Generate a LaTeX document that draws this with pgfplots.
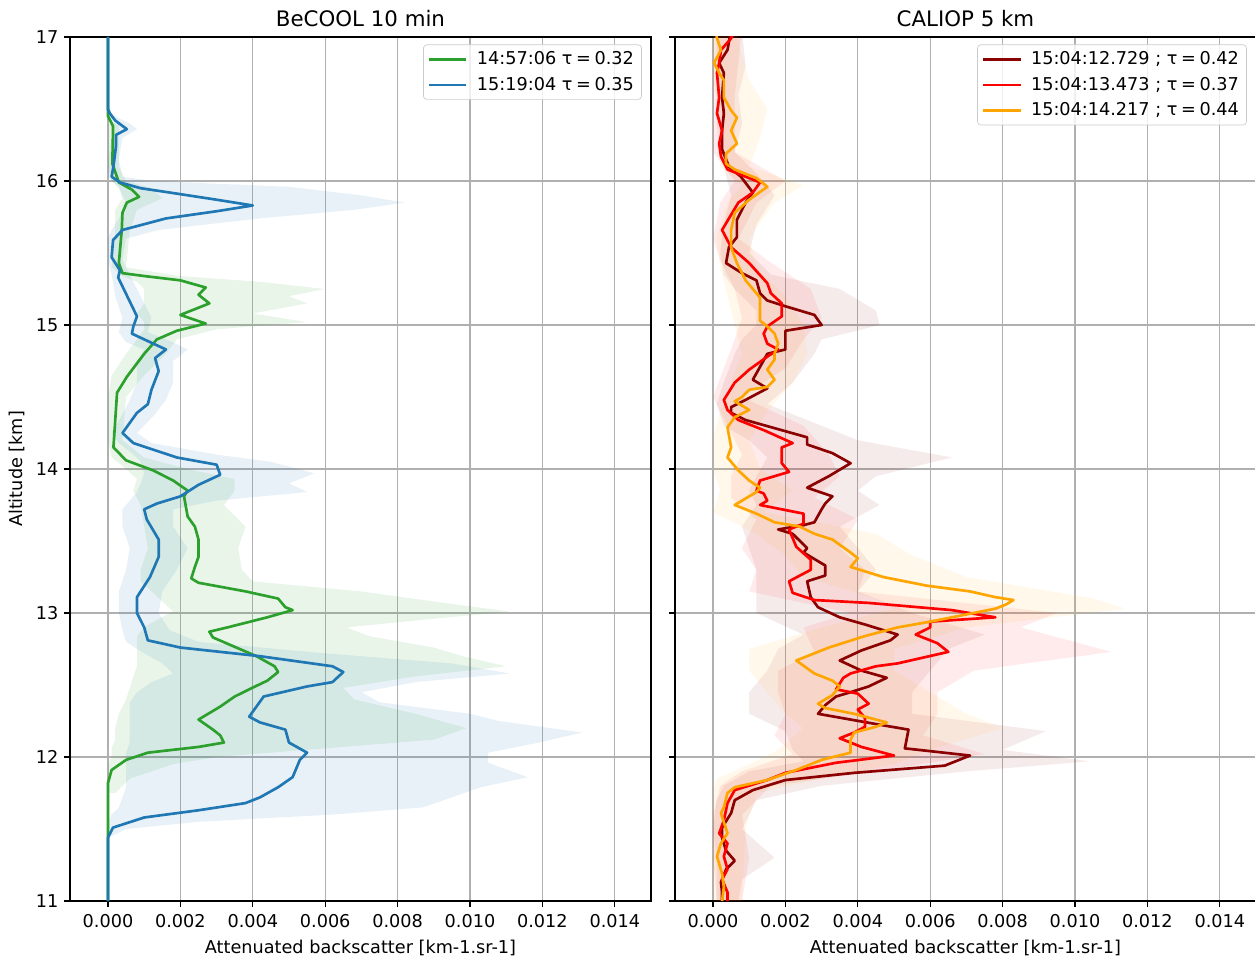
\documentclass[border=0pt]{standalone}
\usepackage{fontspec}
\setmainfont{DejaVu Sans}
\usepackage{pgfplots}
\usepackage{pgfplotstable}
\pgfplotsset{compat=1.18}

\definecolor{mplblue}{HTML}{1F77B4}
\definecolor{mplgreen}{HTML}{2CA02C}
\definecolor{cdarkred}{HTML}{8B0000}
\definecolor{cred}{HTML}{FF0000}
\definecolor{corange}{HTML}{FFA500}
\definecolor{gridgrey}{HTML}{B0B0B0}

% ---------------- BeCOOL profiles (alt [km], backscatter) ----------------
\pgfplotstableread{
alt val
17.00 0.0000
16.50 0.0000
16.47 0.00005
16.42 0.0002
16.36 0.00052
16.32 0.00022
16.24 0.00022
16.10 0.00015
16.03 0.0001
15.99 0.00033
15.95 0.0009
15.92 0.0017
15.87 0.0030
15.83 0.0040
15.79 0.0030
15.74 0.0016
15.66 0.0004
15.59 0.00014
15.47 0.0001
15.38 0.00033
15.33 0.00028
15.19 0.00055
15.06 0.0008
14.99 0.0007
14.94 0.00066
14.90 0.0010
14.83 0.0016
14.77 0.0013
14.68 0.0014
14.55 0.0012
14.45 0.0011
14.39 0.0008
14.25 0.0004
14.18 0.0007
14.08 0.0019
14.03 0.0030
13.96 0.0031
13.89 0.0025
13.81 0.0020
13.76 0.00135
13.72 0.0010
13.65 0.00107
13.51 0.0014
13.39 0.0014
13.25 0.00116
13.11 0.0008
13.00 0.0008
12.90 0.0010
12.81 0.0011
12.76 0.0020
12.70 0.0042
12.63 0.0062
12.59 0.0065
12.52 0.0062
12.49 0.0055
12.42 0.0043
12.35 0.0041
12.28 0.0039
12.24 0.0042
12.19 0.0049
12.10 0.0050
12.03 0.0055
11.98 0.0053
11.86 0.0051
11.79 0.0047
11.72 0.0042
11.68 0.0038
11.63 0.0025
11.58 0.0010
11.51 0.00014
11.44 0.0000
11.00 0.0000
}\blueline

\pgfplotstableread{
alt val
17.00 0.0000
16.45 0.0000
16.38 0.00014
16.12 0.00012
15.99 0.0003
15.94 0.00066
15.89 0.00086
15.85 0.00052
15.78 0.0004
15.66 0.00038
15.43 0.0003
15.36 0.0004
15.34 0.0010
15.31 0.0020
15.26 0.0027
15.21 0.0025
15.15 0.0028
15.07 0.0020
15.01 0.0027
14.96 0.0019
14.90 0.00135
14.80 0.0010
14.64 0.00052
14.53 0.00025
14.34 0.0002
14.15 0.00015
14.06 0.0005
13.99 0.00125
13.92 0.0018
13.85 0.0022
13.81 0.0021
13.67 0.0022
13.60 0.0024
13.51 0.0025
13.39 0.0025
13.32 0.0024
13.24 0.0023
13.21 0.0025
13.15 0.0038
13.10 0.0047
13.04 0.0049
13.02 0.0051
12.97 0.0044
12.90 0.0033
12.87 0.0028
12.83 0.0029
12.70 0.0041
12.63 0.0046
12.59 0.0047
12.53 0.0044
12.47 0.0039
12.42 0.0035
12.35 0.0031
12.26 0.0025
12.19 0.0029
12.15 0.0031
12.10 0.0032
12.07 0.0025
12.03 0.0011
11.98 0.0005
11.91 0.0001
11.82 0.0000
11.00 0.0000
}\greenline

% ---------------- CALIOP profiles ----------------
\pgfplotstableread{
alt val
17.05 0.0005
16.91 0.0004
16.82 0.00017
16.75 0.0003
16.58 0.00025
16.47 0.0003
16.35 0.00025
16.22 0.00025
16.10 0.00044
16.03 0.00077
15.92 0.0011
15.85 0.0009
15.73 0.00066
15.61 0.00066
15.54 0.00044
15.43 0.00036
15.36 0.0008
15.31 0.0012
15.22 0.0013
15.17 0.0015
15.13 0.0020
15.07 0.0028
15.00 0.0030
14.96 0.0020
14.83 0.0020
14.80 0.0015
14.62 0.0011
14.56 0.0015
14.48 0.0009
14.43 0.0005
14.39 0.0005
14.34 0.0009
14.22 0.0026
14.17 0.0026
14.11 0.0033
14.04 0.0038
13.95 0.0032
13.87 0.0026
13.81 0.0033
13.76 0.0031
13.72 0.0030
13.63 0.0028
13.61 0.0025
13.58 0.0018
13.55 0.0022
13.45 0.0026
13.42 0.0025
13.33 0.0031
13.26 0.0031
13.22 0.0026
13.11 0.0027
13.04 0.0029
12.97 0.0035
12.92 0.0042
12.85 0.0051
12.81 0.0049
12.74 0.0041
12.67 0.0035
12.60 0.0041
12.55 0.0048
12.49 0.0043
12.45 0.0038
12.42 0.0034
12.36 0.0031
12.30 0.0029
12.26 0.0038
12.22 0.0047
12.19 0.0054
12.06 0.0053
12.01 0.0071
11.94 0.0064
11.89 0.0039
11.84 0.0020
11.77 0.0011
11.70 0.0006
11.61 0.0005
11.51 0.00025
11.44 0.00025
11.35 0.00036
11.28 0.0006
11.22 0.00036
11.13 0.00022
11.06 0.00025
11.00 0.00025
}\dkredline

\pgfplotstableread{
alt val
17.05 0.0006
16.99 0.0005
16.91 0.00022
16.82 0.00017
16.75 0.00011
16.58 0.00017
16.47 0.00011
16.35 0.00025
16.26 0.00017
16.17 0.00022
16.08 0.0004
15.99 0.0013
15.92 0.0011
15.85 0.0007
15.66 0.00025
15.54 0.0005
15.43 0.0010
15.29 0.0015
15.22 0.0016
15.15 0.0019
15.06 0.0019
14.99 0.0015
14.94 0.0014
14.87 0.0015
14.83 0.0018
14.78 0.0015
14.69 0.0010
14.60 0.0006
14.48 0.0003
14.41 0.0004
14.34 0.0007
14.27 0.0014
14.18 0.0022
14.15 0.0019
14.04 0.0019
13.98 0.0021
13.92 0.0013
13.85 0.0012
13.83 0.0014
13.78 0.0015
13.75 0.0013
13.69 0.0025
13.62 0.0025
13.58 0.0021
13.46 0.0023
13.37 0.0027
13.30 0.0027
13.22 0.0021
13.14 0.0022
13.09 0.0028
13.07 0.0043
13.02 0.0066
12.97 0.0078
12.94 0.0060
12.90 0.0060
12.85 0.0056
12.79 0.0062
12.73 0.0065
12.65 0.0051
12.63 0.0045
12.58 0.0038
12.55 0.0036
12.47 0.0034
12.44 0.0040
12.37 0.0043
12.33 0.0040
12.27 0.0042
12.21 0.0042
12.17 0.0039
12.13 0.0035
12.07 0.0041
12.01 0.0050
11.96 0.0034
11.89 0.0020
11.84 0.0015
11.77 0.0006
11.68 0.0004
11.56 0.0003
11.47 0.00017
11.40 0.0004
11.31 0.0003
11.22 0.0004
11.15 0.00025
11.06 0.0004
11.00 0.0004
}\redline

\pgfplotstableread{
alt val
17.05 0.0001
17.00 0.0001
16.91 0.00022
16.82 0.00003
16.75 0.00017
16.70 0.0003
16.58 0.0003
16.49 0.0005
16.44 0.00066
16.35 0.0005
16.26 0.00066
16.19 0.00036
16.12 0.00036
16.08 0.0006
16.02 0.0012
15.96 0.0015
15.87 0.0010
15.78 0.0006
15.66 0.0005
15.54 0.0005
15.43 0.00066
15.31 0.0009
15.19 0.0013
15.10 0.0013
15.03 0.0013
14.99 0.0015
14.94 0.0017
14.87 0.0018
14.80 0.0017
14.76 0.0017
14.69 0.0015
14.62 0.0017
14.57 0.0015
14.55 0.0010
14.50 0.0008
14.47 0.0006
14.41 0.0010
14.36 0.0006
14.29 0.0004
14.15 0.0005
14.08 0.0004
13.99 0.0007
13.92 0.0010
13.87 0.0013
13.84 0.0012
13.81 0.0010
13.75 0.0006
13.69 0.0012
13.63 0.0017
13.60 0.0024
13.55 0.0028
13.51 0.0033
13.42 0.0038
13.38 0.0040
13.32 0.0038
13.25 0.0047
13.19 0.0059
13.15 0.0071
13.11 0.0078
13.09 0.0083
13.06 0.0081
13.03 0.0078
12.99 0.0070
12.94 0.0060
12.90 0.0051
12.84 0.0042
12.76 0.0032
12.67 0.0023
12.58 0.0028
12.53 0.0033
12.49 0.0035
12.43 0.0033
12.37 0.0029
12.34 0.0031
12.30 0.0039
12.24 0.0048
12.21 0.0045
12.17 0.0039
12.12 0.0038
12.03 0.0038
11.98 0.0030
11.91 0.0023
11.84 0.0015
11.79 0.0006
11.75 0.0004
11.65 0.0003
11.61 0.00022
11.47 0.0004
11.40 0.00022
11.31 0.00011
11.19 0.00025
11.10 0.0003
11.00 0.00025
}\orangeline

\pgfplotsset{
  panel/.style={
    scale only axis, width=348.6pt, height=518.4pt,
    xmin=-0.00105, xmax=0.015, ymin=11, ymax=17,
    xtick={0,0.002,0.004,0.006,0.008,0.010,0.012,0.014},
    ytick={11,12,13,14,15,16,17},
    scaled x ticks=false,
    xticklabel style={/pgf/number format/fixed, /pgf/number format/fixed zerofill, /pgf/number format/precision=3, yshift=-1pt},
    /pgf/number format/assume math mode=true,
    grid=major, major grid style={gridgrey, line width=0.8pt},
    tick align=outside, tick pos=left, major tick length=3.5pt,
    every tick/.style={black, line width=0.8pt},
    axis line style={line width=0.8pt},
    tick label style={font=\fontsize{10.6}{12.5}\selectfont},
    label style={font=\fontsize{10.6}{12.5}\selectfont},
    title style={font=\fontsize{12.8}{15}\selectfont, yshift=-3.3pt},
    xlabel={Attenuated backscatter [km-1.sr-1]},
    xlabel style={yshift=-0.5pt},
    legend cell align=left,
    legend style={at={(1,1)}, anchor=north east, xshift=-5.5pt, yshift=-4.5pt,
      draw=black!20, rounded corners=2pt, fill=white, fill opacity=0.8, text opacity=1,
      font=\fontsize{10.6}{12.5}\selectfont, inner xsep=2.5pt, inner ysep=2pt, row sep=2pt},
    legend image code/.code={\draw[#1, line width=1.6pt] (0pt,0pt) -- (22.5pt,0pt); \path (26pt,0pt);},
  },
  bandfill/.style={draw=none, forget plot, fill opacity=0.1, fill=#1},
  bandfillr/.style={draw=none, forget plot, fill opacity=0.08, fill=#1},
  prof/.style={#1, line width=1.6pt, line join=round},
}

\begin{document}
\begin{tikzpicture}
\path[use as bounding box] (0,0) rectangle (753pt,573.6pt);

% ---------------- left panel ----------------
\begin{axis}[panel, at={(42pt,33pt)}, anchor=south west,
  title={BeCOOL 10 min}, ylabel={Altitude [km]}, ylabel style={yshift=0pt}]
  % green band (hi top->bottom, then lo bottom->top)
  \addplot[bandfill=mplgreen] coordinates {
    (0.0003,16.40)(0.0003,16.10)(0.0005,16.00)(0.0012,15.95)(0.0015,15.88)(0.0008,15.80)(0.0006,15.65)(0.0005,15.40)(0.0020,15.34)(0.0042,15.30)(0.0060,15.25)(0.0050,15.20)(0.0055,15.15)(0.0040,15.08)(0.0055,15.02)(0.0030,14.97)(0.0019,14.90)(0.0016,14.80)(0.0010,14.65)(0.0005,14.50)(0.0004,14.20)(0.0010,14.08)(0.0022,14.00)(0.0035,13.93)(0.0035,13.85)(0.0032,13.75)(0.0038,13.60)(0.0036,13.45)(0.0037,13.30)(0.0040,13.22)(0.0070,13.15)(0.0090,13.08)(0.0111,13.01)(0.0090,12.96)(0.0066,12.90)(0.0072,12.84)(0.0090,12.76)(0.0098,12.70)(0.0110,12.63)(0.0085,12.56)(0.0065,12.48)(0.0068,12.40)(0.0085,12.30)(0.0099,12.20)(0.0090,12.12)(0.0060,12.06)(0.0030,12.00)(0.0018,11.95)(0.0006,11.85)(0.0002,11.75)
    (0.0000,11.75)(0.0000,11.85)(0.0000,11.95)(0.0001,12.00)(0.0001,12.06)(0.0002,12.12)(0.0002,12.20)(0.0003,12.30)(0.0005,12.40)(0.0006,12.48)(0.0007,12.56)(0.0008,12.63)(0.0008,12.70)(0.0008,12.76)(0.0008,12.84)(0.0010,12.90)(0.0014,12.96)(0.0018,13.01)(0.0015,13.08)(0.0012,13.15)(0.0009,13.22)(0.0009,13.30)(0.0011,13.45)(0.0010,13.60)(0.0009,13.75)(0.0007,13.85)(0.0008,13.93)(0.0005,14.00)(0.0001,14.08)(0.0000,14.20)(0.0000,14.50)(0.0001,14.65)(0.0005,14.80)(0.0008,14.90)(0.0010,14.97)(0.0010,15.02)(0.0008,15.08)(0.0010,15.15)(0.0010,15.20)(0.0010,15.25)(0.0008,15.30)(0.0004,15.34)(0.0001,15.40)(0.0002,15.65)(0.0002,15.80)(0.0004,15.88)(0.0003,15.95)(0.0001,16.00)(0.0000,16.10)(0.0000,16.40)
  };
  % blue band
  \addplot[bandfill=mplblue] coordinates {
    (0.0001,16.46)(0.0006,16.40)(0.0008,16.36)(0.0004,16.30)(0.0003,16.15)(0.0004,16.03)(0.0012,16.00)(0.0050,15.96)(0.0070,15.90)(0.0082,15.85)(0.0068,15.80)(0.0042,15.74)(0.0014,15.66)(0.0005,15.60)(0.0004,15.45)(0.0006,15.35)(0.0009,15.20)(0.0012,15.05)(0.0011,14.95)(0.0018,14.88)(0.0022,14.83)(0.0018,14.75)(0.0018,14.60)(0.0016,14.48)(0.0013,14.38)(0.0008,14.25)(0.0012,14.18)(0.0030,14.10)(0.0045,14.05)(0.0057,13.97)(0.0050,13.90)(0.0055,13.84)(0.0030,13.78)(0.0018,13.72)(0.0018,13.60)(0.0022,13.45)(0.0019,13.30)(0.0015,13.15)(0.0014,13.00)(0.0017,12.88)(0.0025,12.80)(0.0060,12.72)(0.0095,12.65)(0.0111,12.58)(0.0085,12.52)(0.0070,12.45)(0.0075,12.38)(0.0100,12.30)(0.0108,12.25)(0.0131,12.17)(0.0119,12.10)(0.0105,12.03)(0.0105,11.96)(0.0116,11.86)(0.0103,11.79)(0.0095,11.72)(0.0087,11.65)(0.0062,11.60)(0.0025,11.55)(0.0005,11.50)(0.0001,11.45)
    (0.0000,11.45)(0.0000,11.50)(0.0000,11.55)(0.0001,11.60)(0.0003,11.65)(0.0004,11.72)(0.0005,11.79)(0.0005,11.86)(0.0005,11.96)(0.0005,12.03)(0.0006,12.10)(0.0006,12.17)(0.0006,12.25)(0.0006,12.30)(0.0006,12.38)(0.0008,12.45)(0.0012,12.52)(0.0018,12.58)(0.0015,12.65)(0.0010,12.72)(0.0005,12.80)(0.0004,12.88)(0.0003,13.00)(0.0003,13.15)(0.0005,13.30)(0.0006,13.45)(0.0004,13.60)(0.0004,13.72)(0.0006,13.78)(0.0008,13.84)(0.0009,13.90)(0.0010,13.97)(0.0009,14.05)(0.0007,14.10)(0.0003,14.18)(0.0001,14.25)(0.0004,14.38)(0.0006,14.48)(0.0008,14.60)(0.0008,14.75)(0.0010,14.83)(0.0005,14.88)(0.0003,14.95)(0.0004,15.05)(0.0002,15.20)(0.0001,15.35)(0.0000,15.45)(0.0000,15.60)(0.0001,15.66)(0.0003,15.74)(0.0004,15.80)(0.0005,15.85)(0.0004,15.90)(0.0003,15.96)(0.0001,16.00)(0.0000,16.03)(0.0000,16.15)(0.0001,16.30)(0.0002,16.36)(0.0001,16.40)(0.0000,16.46)
  };
  \addplot[prof=mplgreen] table[x=val, y=alt] {\greenline};
  \addlegendentry{14:57:06 τ\hspace{2.2pt}=\hspace{2.2pt}0.32}
  \addplot[prof=mplblue] table[x=val, y=alt] {\blueline};
  \addlegendentry{15:19:04 τ\hspace{2.2pt}=\hspace{2.2pt}0.35}
\end{axis}

% ---------------- right panel ----------------
\begin{axis}[panel, at={(405pt,33pt)}, anchor=south west,
  title={CALIOP 5 km}, yticklabels={}]
  % dark red band
  \addplot[bandfillr=cdarkred] coordinates {
    (0.0008,17.05)(0.0009,16.80)(0.0007,16.60)(0.0008,16.40)(0.0006,16.20)(0.0014,16.00)(0.0017,15.90)(0.0012,15.70)(0.0010,15.50)(0.0016,15.35)(0.0035,15.25)(0.0045,15.10)(0.0046,15.00)(0.0030,14.90)(0.0028,14.80)(0.0022,14.60)(0.0015,14.45)(0.0030,14.30)(0.0040,14.20)(0.0066,14.08)(0.0045,13.95)(0.0040,13.85)(0.0046,13.75)(0.0035,13.60)(0.0040,13.45)(0.0045,13.30)(0.0040,13.15)(0.0055,13.00)(0.0075,12.85)(0.0065,12.75)(0.0060,12.60)(0.0055,12.45)(0.0055,12.30)(0.0092,12.18)(0.0080,12.05)(0.0104,11.97)(0.0070,11.90)(0.0030,11.80)(0.0012,11.70)(0.0008,11.50)(0.0017,11.30)(0.0008,11.15)(0.0007,11.00)
    (0.0001,11.00)(0.0001,11.15)(0.0001,11.30)(0.0000,11.50)(0.0001,11.70)(0.0003,11.80)(0.0010,11.90)(0.0025,11.97)(0.0022,12.05)(0.0020,12.18)(0.0010,12.30)(0.0010,12.45)(0.0015,12.60)(0.0018,12.75)(0.0025,12.85)(0.0012,13.00)(0.0012,13.15)(0.0012,13.30)(0.0010,13.45)(0.0008,13.60)(0.0012,13.75)(0.0010,13.85)(0.0012,13.95)(0.0015,14.08)(0.0010,14.20)(0.0003,14.30)(0.0001,14.45)(0.0003,14.60)(0.0006,14.80)(0.0008,14.90)(0.0012,15.00)(0.0012,15.10)(0.0006,15.25)(0.0003,15.35)(0.0002,15.50)(0.0003,15.70)(0.0005,15.90)(0.0004,16.00)(0.0002,16.20)(0.0001,16.40)(0.0001,16.60)(0.0001,16.80)(0.0001,17.05)
  };
  % red band
  \addplot[bandfillr=cred] coordinates {
    (0.0008,17.05)(0.0006,16.60)(0.0006,16.20)(0.0020,16.00)(0.0012,15.85)(0.0007,15.60)(0.0015,15.45)(0.0027,15.25)(0.0030,15.05)(0.0025,14.90)(0.0020,14.70)(0.0008,14.50)(0.0025,14.30)(0.0032,14.10)(0.0035,13.95)(0.0028,13.80)(0.0040,13.65)(0.0035,13.45)(0.0042,13.30)(0.0040,13.15)(0.0095,13.00)(0.0085,12.90)(0.0110,12.73)(0.0072,12.60)(0.0062,12.45)(0.0062,12.30)(0.0058,12.15)(0.0075,12.02)(0.0045,11.90)(0.0016,11.80)(0.0008,11.60)(0.0010,11.30)(0.0008,11.00)
    (0.0001,11.00)(0.0000,11.30)(0.0000,11.60)(0.0002,11.80)(0.0008,11.90)(0.0022,12.02)(0.0017,12.15)(0.0020,12.30)(0.0018,12.45)(0.0018,12.60)(0.0028,12.73)(0.0025,12.90)(0.0038,13.00)(0.0010,13.15)(0.0012,13.30)(0.0008,13.45)(0.0012,13.65)(0.0005,13.80)(0.0005,13.95)(0.0008,14.10)(0.0004,14.30)(0.0000,14.50)(0.0003,14.70)(0.0006,14.90)(0.0008,15.05)(0.0006,15.25)(0.0002,15.45)(0.0000,15.60)(0.0002,15.85)(0.0006,16.00)(0.0000,16.20)(0.0000,16.60)(0.0000,17.05)
  };
  % orange band
  \addplot[bandfillr=corange] coordinates {
    (0.0006,17.05)(0.0010,16.70)(0.0015,16.50)(0.0013,16.30)(0.0010,16.10)(0.0025,15.97)(0.0017,15.85)(0.0010,15.60)(0.0012,15.40)(0.0020,15.20)(0.0025,15.00)(0.0026,14.80)(0.0022,14.60)(0.0015,14.40)(0.0010,14.20)(0.0013,14.00)(0.0022,13.85)(0.0014,13.70)(0.0045,13.55)(0.0055,13.40)(0.0070,13.25)(0.0105,13.10)(0.0114,13.03)(0.0070,12.90)(0.0050,12.75)(0.0050,12.60)(0.0060,12.45)(0.0070,12.30)(0.0080,12.20)(0.0060,12.05)(0.0050,11.95)(0.0030,11.85)(0.0012,11.75)(0.0009,11.50)(0.0008,11.00)
    (0.0000,11.00)(0.0000,11.50)(0.0000,11.75)(0.0001,11.85)(0.0010,11.95)(0.0018,12.05)(0.0025,12.20)(0.0020,12.30)(0.0015,12.45)(0.0010,12.60)(0.0010,12.75)(0.0030,12.90)(0.0050,13.03)(0.0045,13.10)(0.0025,13.25)(0.0020,13.40)(0.0012,13.55)(0.0000,13.70)(0.0002,13.85)(0.0000,14.00)(0.0000,14.20)(0.0002,14.40)(0.0005,14.60)(0.0008,14.80)(0.0006,15.00)(0.0004,15.20)(0.0002,15.40)(0.0001,15.60)(0.0004,15.85)(0.0008,15.97)(0.0002,16.10)(0.0002,16.30)(0.0002,16.50)(0.0000,16.70)(0.0000,17.05)
  };
  \addplot[prof=cdarkred] table[x=val, y=alt] {\dkredline};
  \addlegendentry{15:04:12.729 ; τ\hspace{2.2pt}=\hspace{2.2pt}0.42}
  \addplot[prof=cred] table[x=val, y=alt] {\redline};
  \addlegendentry{15:04:13.473 ; τ\hspace{2.2pt}=\hspace{2.2pt}0.37}
  \addplot[prof=corange] table[x=val, y=alt] {\orangeline};
  \addlegendentry{15:04:14.217 ; τ\hspace{2.2pt}=\hspace{2.2pt}0.44}
\end{axis}
\end{tikzpicture}
\end{document}
